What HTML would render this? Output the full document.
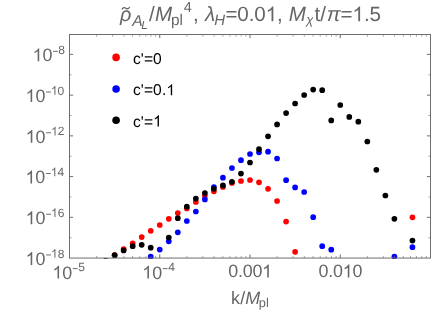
<!DOCTYPE html>
<html><head><meta charset="utf-8"><title>plot</title>
<style>
html,body{margin:0;padding:0;background:#fff;}
body{width:436px;height:312px;overflow:hidden;}
svg{display:block;font-family:"Liberation Sans",sans-serif;text-rendering:geometricPrecision;will-change:transform;}
</style></head><body>
<svg width="436" height="312" viewBox="0 0 436 312">
<rect width="436" height="312" fill="#ffffff"/>
<g>
<clipPath id="cp"><rect x="69.0" y="34.0" width="362.0" height="225.0"/></clipPath>
<g clip-path="url(#cp)"><circle cx="114.62" cy="255.20" r="2.85" fill="#ff0000"/><circle cx="123.65" cy="249.00" r="2.85" fill="#ff0000"/><circle cx="132.68" cy="243.30" r="2.85" fill="#ff0000"/><circle cx="141.70" cy="237.10" r="2.85" fill="#ff0000"/><circle cx="150.72" cy="230.80" r="2.85" fill="#ff0000"/><circle cx="159.75" cy="225.00" r="2.85" fill="#ff0000"/><circle cx="168.78" cy="218.80" r="2.85" fill="#ff0000"/><circle cx="177.80" cy="213.00" r="2.85" fill="#ff0000"/><circle cx="186.82" cy="208.50" r="2.85" fill="#ff0000"/><circle cx="195.85" cy="201.90" r="2.85" fill="#ff0000"/><circle cx="204.88" cy="195.80" r="2.85" fill="#ff0000"/><circle cx="213.90" cy="191.30" r="2.85" fill="#ff0000"/><circle cx="222.93" cy="186.90" r="2.85" fill="#ff0000"/><circle cx="231.95" cy="183.00" r="2.85" fill="#ff0000"/><circle cx="240.97" cy="181.00" r="2.85" fill="#ff0000"/><circle cx="250.00" cy="180.00" r="2.85" fill="#ff0000"/><circle cx="259.02" cy="182.30" r="2.85" fill="#ff0000"/><circle cx="268.05" cy="188.80" r="2.85" fill="#ff0000"/><circle cx="277.07" cy="201.00" r="2.85" fill="#ff0000"/><circle cx="286.10" cy="221.60" r="2.85" fill="#ff0000"/><circle cx="295.12" cy="251.80" r="2.85" fill="#ff0000"/><circle cx="412.45" cy="217.30" r="2.85" fill="#ff0000"/><circle cx="150.72" cy="256.70" r="2.85" fill="#0000ff"/><circle cx="159.75" cy="249.60" r="2.85" fill="#0000ff"/><circle cx="168.78" cy="241.30" r="2.85" fill="#0000ff"/><circle cx="177.80" cy="232.30" r="2.85" fill="#0000ff"/><circle cx="186.82" cy="221.00" r="2.85" fill="#0000ff"/><circle cx="195.85" cy="211.50" r="2.85" fill="#0000ff"/><circle cx="204.88" cy="199.40" r="2.85" fill="#0000ff"/><circle cx="213.90" cy="187.00" r="2.85" fill="#0000ff"/><circle cx="222.93" cy="177.70" r="2.85" fill="#0000ff"/><circle cx="231.95" cy="168.00" r="2.85" fill="#0000ff"/><circle cx="240.97" cy="160.20" r="2.85" fill="#0000ff"/><circle cx="250.00" cy="154.00" r="2.85" fill="#0000ff"/><circle cx="259.02" cy="152.30" r="2.85" fill="#0000ff"/><circle cx="268.05" cy="151.70" r="2.85" fill="#0000ff"/><circle cx="277.07" cy="158.50" r="2.85" fill="#0000ff"/><circle cx="286.10" cy="180.20" r="2.85" fill="#0000ff"/><circle cx="295.12" cy="187.40" r="2.85" fill="#0000ff"/><circle cx="304.15" cy="192.00" r="2.85" fill="#0000ff"/><circle cx="313.18" cy="217.20" r="2.85" fill="#0000ff"/><circle cx="322.20" cy="246.20" r="2.85" fill="#0000ff"/><circle cx="331.23" cy="249.70" r="2.85" fill="#0000ff"/><circle cx="394.40" cy="256.60" r="2.85" fill="#0000ff"/><circle cx="412.45" cy="247.20" r="2.85" fill="#0000ff"/><circle cx="105.60" cy="260.85" r="2.85" fill="#000000"/><circle cx="114.62" cy="255.20" r="2.85" fill="#000000"/><circle cx="123.65" cy="250.40" r="2.85" fill="#000000"/><circle cx="132.68" cy="246.20" r="2.85" fill="#000000"/><circle cx="141.70" cy="244.80" r="2.85" fill="#000000"/><circle cx="150.72" cy="247.70" r="2.85" fill="#000000"/><circle cx="168.78" cy="237.50" r="2.85" fill="#000000"/><circle cx="177.80" cy="218.20" r="2.85" fill="#000000"/><circle cx="186.82" cy="206.70" r="2.85" fill="#000000"/><circle cx="195.85" cy="198.50" r="2.85" fill="#000000"/><circle cx="204.88" cy="193.10" r="2.85" fill="#000000"/><circle cx="213.90" cy="188.80" r="2.85" fill="#000000"/><circle cx="222.93" cy="185.40" r="2.85" fill="#000000"/><circle cx="231.95" cy="181.80" r="2.85" fill="#000000"/><circle cx="240.97" cy="173.60" r="2.85" fill="#000000"/><circle cx="250.00" cy="162.50" r="2.85" fill="#000000"/><circle cx="259.02" cy="149.20" r="2.85" fill="#000000"/><circle cx="268.05" cy="136.30" r="2.85" fill="#000000"/><circle cx="277.07" cy="124.40" r="2.85" fill="#000000"/><circle cx="286.10" cy="113.10" r="2.85" fill="#000000"/><circle cx="295.12" cy="103.50" r="2.85" fill="#000000"/><circle cx="304.15" cy="95.00" r="2.85" fill="#000000"/><circle cx="313.18" cy="89.60" r="2.85" fill="#000000"/><circle cx="322.20" cy="90.20" r="2.85" fill="#000000"/><circle cx="331.23" cy="120.40" r="2.85" fill="#000000"/><circle cx="340.25" cy="105.00" r="2.85" fill="#000000"/><circle cx="349.27" cy="116.90" r="2.85" fill="#000000"/><circle cx="358.30" cy="121.70" r="2.85" fill="#000000"/><circle cx="367.32" cy="141.50" r="2.85" fill="#000000"/><circle cx="376.35" cy="169.80" r="2.85" fill="#000000"/><circle cx="385.38" cy="195.50" r="2.85" fill="#000000"/><circle cx="394.40" cy="218.80" r="2.85" fill="#000000"/><circle cx="412.45" cy="240.60" r="2.85" fill="#000000"/></g>
<rect x="69.5" y="34.5" width="361.0" height="223.55" fill="none" stroke="#6e6e6e" stroke-width="1"/>
<path d="M159.75 258.05v-3.6 M159.75 34.5v3.6 M250.00 258.05v-3.6 M250.00 34.5v3.6 M340.25 258.05v-3.6 M340.25 34.5v3.6 M69.5 217.32h3.6 M430.5 217.32h-3.6 M69.5 176.59h3.6 M430.5 176.59h-3.6 M69.5 135.86h3.6 M430.5 135.86h-3.6 M69.5 95.13h3.6 M430.5 95.13h-3.6 M69.5 54.40h3.6 M430.5 54.40h-3.6" stroke="#6e6e6e" stroke-width="1" fill="none"/>
<path d="M96.67 258.05v-2.1 M96.67 34.5v2.1 M112.56 258.05v-2.1 M112.56 34.5v2.1 M123.84 258.05v-2.1 M123.84 34.5v2.1 M132.58 258.05v-2.1 M132.58 34.5v2.1 M139.73 258.05v-2.1 M139.73 34.5v2.1 M145.77 258.05v-2.1 M145.77 34.5v2.1 M151.00 258.05v-2.1 M151.00 34.5v2.1 M155.62 258.05v-2.1 M155.62 34.5v2.1 M186.92 258.05v-2.1 M186.92 34.5v2.1 M202.81 258.05v-2.1 M202.81 34.5v2.1 M214.09 258.05v-2.1 M214.09 34.5v2.1 M222.83 258.05v-2.1 M222.83 34.5v2.1 M229.98 258.05v-2.1 M229.98 34.5v2.1 M236.02 258.05v-2.1 M236.02 34.5v2.1 M241.25 258.05v-2.1 M241.25 34.5v2.1 M245.87 258.05v-2.1 M245.87 34.5v2.1 M277.17 258.05v-2.1 M277.17 34.5v2.1 M293.06 258.05v-2.1 M293.06 34.5v2.1 M304.34 258.05v-2.1 M304.34 34.5v2.1 M313.08 258.05v-2.1 M313.08 34.5v2.1 M320.23 258.05v-2.1 M320.23 34.5v2.1 M326.27 258.05v-2.1 M326.27 34.5v2.1 M331.50 258.05v-2.1 M331.50 34.5v2.1 M336.12 258.05v-2.1 M336.12 34.5v2.1 M367.42 258.05v-2.1 M367.42 34.5v2.1 M383.31 258.05v-2.1 M383.31 34.5v2.1 M394.59 258.05v-2.1 M394.59 34.5v2.1 M403.33 258.05v-2.1 M403.33 34.5v2.1 M410.48 258.05v-2.1 M410.48 34.5v2.1 M416.52 258.05v-2.1 M416.52 34.5v2.1 M421.75 258.05v-2.1 M421.75 34.5v2.1 M426.37 258.05v-2.1 M426.37 34.5v2.1 M69.5 237.69h2.1 M430.5 237.69h-2.1 M69.5 196.96h2.1 M430.5 196.96h-2.1 M69.5 156.23h2.1 M430.5 156.23h-2.1 M69.5 115.50h2.1 M430.5 115.50h-2.1 M69.5 74.77h2.1 M430.5 74.77h-2.1" stroke="#6e6e6e" stroke-width="0.6" fill="none"/>
<path transform="translate(50.98 257.65) scale(0.00586 -0.00586)" d="M763 0H583V1147Q518 1085 412.5 1023T223 930V1104Q374 1175 487 1276T647 1472H763Z" fill="#666666"/>
<text x="57.65" y="257.65" font-size="12.0" fill="#666666">8</text>
<path d="M46.08 254.95H50.98" stroke="#666666" stroke-width="0.95" fill="none"/>
<path transform="translate(25.57 264.95) scale(0.00874 -0.00874)" d="M763 0H583V1147Q518 1085 412.5 1023T223 930V1104Q374 1175 487 1276T647 1472H763Z" fill="#666666"/>
<text x="35.53" y="264.95" font-size="17.9" fill="#666666">0</text>
<path transform="translate(50.98 216.92) scale(0.00586 -0.00586)" d="M763 0H583V1147Q518 1085 412.5 1023T223 930V1104Q374 1175 487 1276T647 1472H763Z" fill="#666666"/>
<text x="57.65" y="216.92" font-size="12.0" fill="#666666">6</text>
<path d="M46.09 214.22H50.99" stroke="#666666" stroke-width="0.95" fill="none"/>
<path transform="translate(25.58 224.22) scale(0.00874 -0.00874)" d="M763 0H583V1147Q518 1085 412.5 1023T223 930V1104Q374 1175 487 1276T647 1472H763Z" fill="#666666"/>
<text x="35.53" y="224.22" font-size="17.9" fill="#666666">0</text>
<path transform="translate(50.81 176.19) scale(0.00586 -0.00586)" d="M763 0H583V1147Q518 1085 412.5 1023T223 930V1104Q374 1175 487 1276T647 1472H763Z" fill="#666666"/>
<text x="57.48" y="176.19" font-size="12.0" fill="#666666">4</text>
<path d="M45.91 173.49H50.81" stroke="#666666" stroke-width="0.95" fill="none"/>
<path transform="translate(25.40 183.49) scale(0.00874 -0.00874)" d="M763 0H583V1147Q518 1085 412.5 1023T223 930V1104Q374 1175 487 1276T647 1472H763Z" fill="#666666"/>
<text x="35.36" y="183.49" font-size="17.9" fill="#666666">0</text>
<path transform="translate(51.06 135.46) scale(0.00586 -0.00586)" d="M763 0H583V1147Q518 1085 412.5 1023T223 930V1104Q374 1175 487 1276T647 1472H763Z" fill="#666666"/>
<text x="57.73" y="135.46" font-size="12.0" fill="#666666">2</text>
<path d="M46.16 132.76H51.06" stroke="#666666" stroke-width="0.95" fill="none"/>
<path transform="translate(25.66 142.76) scale(0.00874 -0.00874)" d="M763 0H583V1147Q518 1085 412.5 1023T223 930V1104Q374 1175 487 1276T647 1472H763Z" fill="#666666"/>
<text x="35.61" y="142.76" font-size="17.9" fill="#666666">0</text>
<path transform="translate(50.92 94.73) scale(0.00586 -0.00586)" d="M763 0H583V1147Q518 1085 412.5 1023T223 930V1104Q374 1175 487 1276T647 1472H763Z" fill="#666666"/>
<text x="57.59" y="94.73" font-size="12.0" fill="#666666">0</text>
<path d="M46.03 92.03H50.93" stroke="#666666" stroke-width="0.95" fill="none"/>
<path transform="translate(25.52 102.03) scale(0.00874 -0.00874)" d="M763 0H583V1147Q518 1085 412.5 1023T223 930V1104Q374 1175 487 1276T647 1472H763Z" fill="#666666"/>
<text x="35.47" y="102.03" font-size="17.9" fill="#666666">0</text>
<text x="58.35" y="54.00" font-size="12.0" fill="#666666">8</text>
<path d="M52.97 51.30H57.87" stroke="#666666" stroke-width="0.95" fill="none"/>
<path transform="translate(32.56 61.30) scale(0.00874 -0.00874)" d="M763 0H583V1147Q518 1085 412.5 1023T223 930V1104Q374 1175 487 1276T647 1472H763Z" fill="#666666"/>
<text x="42.51" y="61.30" font-size="17.9" fill="#666666">0</text>
<text x="78.23" y="271.30" font-size="12.0" fill="#666666">5</text>
<path d="M72.81 268.60H77.71" stroke="#666666" stroke-width="0.95" fill="none"/>
<path transform="translate(52.40 278.60) scale(0.00874 -0.00874)" d="M763 0H583V1147Q518 1085 412.5 1023T223 930V1104Q374 1175 487 1276T647 1472H763Z" fill="#666666"/>
<text x="62.35" y="278.60" font-size="17.9" fill="#666666">0</text>
<text x="168.33" y="271.30" font-size="12.0" fill="#666666">4</text>
<path d="M162.70 268.60H167.60" stroke="#666666" stroke-width="0.95" fill="none"/>
<path transform="translate(142.29 278.60) scale(0.00874 -0.00874)" d="M763 0H583V1147Q518 1085 412.5 1023T223 930V1104Q374 1175 487 1276T647 1472H763Z" fill="#666666"/>
<text x="152.25" y="278.60" font-size="17.9" fill="#666666">0</text>
<text x="228.30" y="277.40" font-size="17.9" letter-spacing="-0.25" fill="#666666">0.00</text>
<path transform="translate(262.14 277.40) scale(0.00874 -0.00874)" d="M763 0H583V1147Q518 1085 412.5 1023T223 930V1104Q374 1175 487 1276T647 1472H763Z" fill="#666666"/>
<text x="318.55" y="277.40" font-size="17.9" letter-spacing="-0.25" fill="#666666">0.0</text>
<path transform="translate(342.68 277.40) scale(0.00874 -0.00874)" d="M763 0H583V1147Q518 1085 412.5 1023T223 930V1104Q374 1175 487 1276T647 1472H763Z" fill="#666666"/>
<text x="352.39" y="277.40" font-size="17.9" letter-spacing="-0.25" fill="#666666">0</text>
<text x="230.99" y="304.10" font-size="17.9" letter-spacing="0.2" fill="#666666">k/</text>
<text x="245.35" y="304.10" font-size="17.9" font-style="italic" fill="#666666">M</text>
<text x="258.78" y="307.30" font-size="12.7" letter-spacing="0.2" fill="#666666">pl</text>
<circle cx="116.1" cy="57.4" r="3.8" fill="#ff0000"/>
<text x="132.94" y="63.75" font-size="15.6" letter-spacing="0.1" fill="#000">c'=0</text>
<circle cx="116.1" cy="89" r="3.8" fill="#0000ff"/>
<text x="132.94" y="95.35" font-size="15.6" letter-spacing="0.1" fill="#000">c'=0.</text>
<path transform="translate(166.34 95.35) scale(0.00762 -0.00762)" d="M763 0H583V1147Q518 1085 412.5 1023T223 930V1104Q374 1175 487 1276T647 1472H763Z" fill="#000"/>
<circle cx="116.1" cy="120.2" r="3.8" fill="#000000"/>
<text x="132.94" y="126.55" font-size="15.6" letter-spacing="0.1" fill="#000">c'=</text>
<path transform="translate(153.13 126.55) scale(0.00762 -0.00762)" d="M763 0H583V1147Q518 1085 412.5 1023T223 930V1104Q374 1175 487 1276T647 1472H763Z" fill="#000"/>
<text x="120.08" y="21.30" font-size="19.8" font-style="italic" fill="#666666">ρ</text>
<text x="132.37" y="25.70" font-size="15.6" font-style="italic" fill="#666666">A</text>
<text x="141.14" y="28.70" font-size="11.8" font-style="italic" fill="#666666">L</text>
<text x="148.90" y="21.30" font-size="20.6" fill="#666666">/</text>
<text x="155.07" y="21.30" font-size="20.6" font-style="italic" fill="#666666">M</text>
<text x="170.91" y="24.70" font-size="15.4" fill="#666666">pl</text>
<text x="183.67" y="11.70" font-size="14.5" fill="#666666">4</text>
<text x="192.95" y="21.30" font-size="20.6" fill="#666666">,</text>
<text x="205.04" y="21.30" font-size="20.6" font-style="italic" fill="#666666">λ</text>
<text x="214.14" y="24.60" font-size="15" font-style="italic" fill="#666666">H</text>
<text x="225.39" y="21.30" font-size="20.6" letter-spacing="-0.1" fill="#666666">=0.0</text>
<path transform="translate(265.66 21.30) scale(0.01006 -0.01006)" d="M763 0H583V1147Q518 1085 412.5 1023T223 930V1104Q374 1175 487 1276T647 1472H763Z" fill="#666666"/>
<text x="277.01" y="21.30" font-size="20.6" letter-spacing="-0.1" fill="#666666">,</text>
<text x="288.67" y="21.30" font-size="20.6" font-style="italic" fill="#666666">M</text>
<text x="306.15" y="24.20" font-size="13" font-style="italic" fill="#666666">χ</text>
<text x="314.49" y="21.30" font-size="20.6" fill="#666666">t/</text>
<text x="326.78" y="21.30" font-size="20.6" font-style="italic" fill="#666666">π</text>
<text x="340.39" y="21.30" font-size="20.6" fill="#666666">=</text>
<path transform="translate(352.42 21.30) scale(0.01006 -0.01006)" d="M763 0H583V1147Q518 1085 412.5 1023T223 930V1104Q374 1175 487 1276T647 1472H763Z" fill="#666666"/>
<text x="363.88" y="21.30" font-size="20.6" fill="#666666">.5</text>
<path d="M121.9 9.3 q1.8 -2.6 3.9 -1.1 q2.1 1.5 3.9 -1.1" stroke="#666666" stroke-width="1.35" fill="none"/>
</g>
</svg>
</body></html>
